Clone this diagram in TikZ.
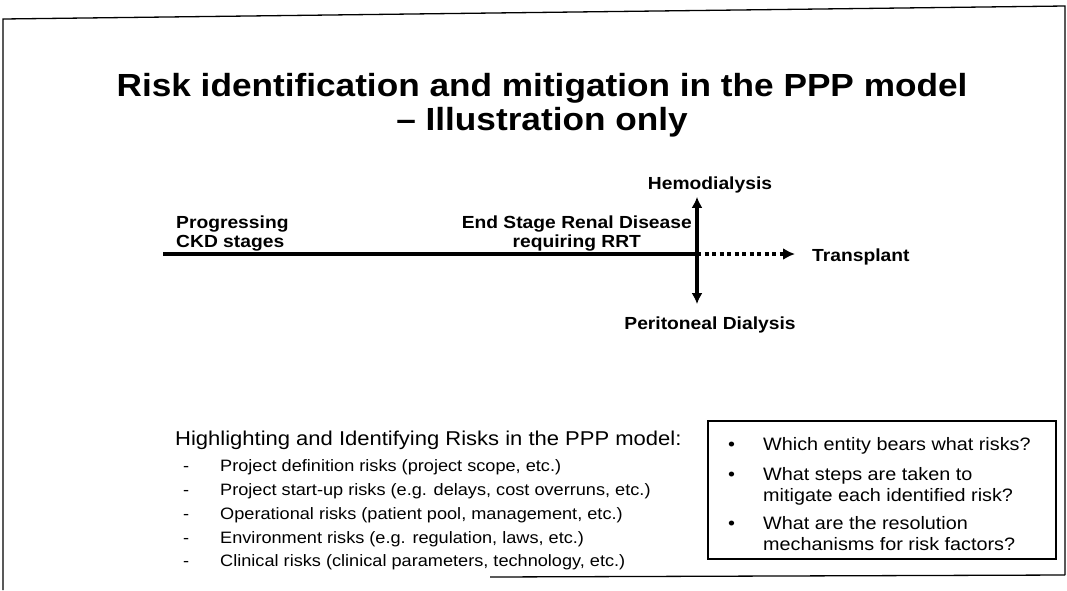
\documentclass[tikz,border=0pt]{standalone}
\usepackage{fontspec}
\setmainfont{Liberation Sans}[FakeStretch=1.1]
\usepackage{tikz}
\usetikzlibrary{arrows.meta, positioning}

\tikzset{
  lbl/.style={font=\bfseries\fontsize{17.5}{18.5}\selectfont, inner sep=0pt},
  item/.style={font=\fontsize{16.5}{19}\selectfont, inner sep=0pt, anchor=base west},
  qtext/.style={font=\fontsize{18}{21}\selectfont, inner sep=0pt, anchor=base west},
}

\begin{document}
\begin{tikzpicture}[x=1pt, y=-1pt]
    \useasboundingbox (0,0) rectangle (1067,590);

    % Frame
    \draw[line width=1.3pt] (3,590) -- (3,19) -- (1065,6) -- (1065,575);
    \draw[line width=1.3pt] (490,577) -- (1065,575);

    % Title
    \node[font=\bfseries\fontsize{32}{36}\selectfont, inner sep=0pt, anchor=base] (title) at (542,96)
        {Risk identification and mitigation in the PPP model};
    \node[font=\bfseries\fontsize{32}{36}\selectfont, inner sep=0pt, anchor=base] (subtitle) at (542,130)
        {-- Illustration only};

    % Disease path
    \coordinate (start) at (163,254);
    \coordinate (junc) at (697,254);
    \node[lbl, align=left, anchor=base west] (ckd) at (176,247) {Progressing\\CKD stages};
    \node[lbl, align=center, anchor=base east] (esrd) at (692,247) {End Stage Renal Disease\\requiring RRT};
    \node[lbl, anchor=base] (hemo) at (710,189) {Hemodialysis};
    \node[lbl, anchor=base] (perit) at (710,329) {Peritoneal Dialysis};
    \node[lbl, anchor=base west] (trans) at (812,261) {Transplant};

    \draw[line width=3.5pt] (start) -- (junc);
    \draw[line width=3.2pt, -{Latex[length=11pt,width=11pt]}, shorten >=4pt] (junc) -- (junc |- hemo.south);
    \draw[line width=3.2pt, -{Latex[length=11pt,width=11pt]}, shorten >=12pt] (junc) -- (junc |- perit.north);
    \draw[line width=3.4pt, dash pattern=on 4pt off 3.5pt, -{Latex[length=12pt,width=12pt]}, shorten >=17pt]
        (junc) -- (trans.west |- junc);

    % Risk list
    \node[font=\fontsize{20}{24}\selectfont, inner sep=0pt, anchor=base west] (head) at (175,445)
        {Highlighting and Identifying Risks in the PPP model:};
    \node[item] (d1) at (183,471) {-};
    \node[item] (r1) at (220,471) {Project definition risks (project scope, etc.)};
    \node[item] (d2) at (183,495) {-};
    \node[item] (r2) at (220,495) {Project start-up risks (e.g. delays, cost overruns, etc.)};
    \node[item] (d3) at (183,519) {-};
    \node[item] (r3) at (220,519) {Operational risks (patient pool, management, etc.)};
    \node[item] (d4) at (183,543) {-};
    \node[item] (r4) at (220,543) {Environment risks (e.g. regulation, laws, etc.)};
    \node[item] (d5) at (183,566) {-};
    \node[item] (r5) at (220,566) {Clinical risks (clinical parameters, technology, etc.)};

    % Questions box
    \draw[line width=1.1pt] (708,421) rectangle (1056,559);
    \node[qtext] (b1) at (728,450) {\textbullet};
    \node[qtext] (q1) at (763,450) {Which entity bears what risks?};
    \node[qtext] (b2) at (728,480) {\textbullet};
    \node[qtext] (q2) at (763,480) {What steps are taken to};
    \node[qtext] (q2b) at (763,501) {mitigate each identified risk?};
    \node[qtext] (b3) at (728,529) {\textbullet};
    \node[qtext] (q3) at (763,529) {What are the resolution};
    \node[qtext] (q3b) at (763,550) {mechanisms for risk factors?};
\end{tikzpicture}
\end{document}
